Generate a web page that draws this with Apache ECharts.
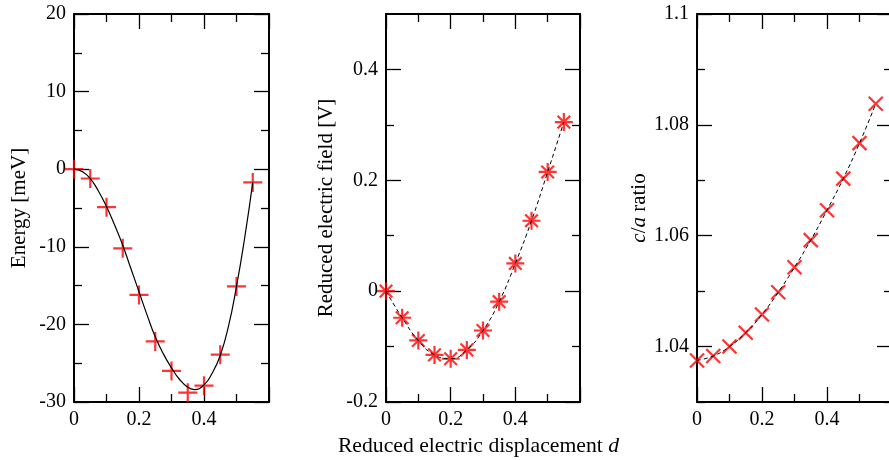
<!DOCTYPE html>
<html><head><meta charset="utf-8">
<script src="https://cdn.jsdelivr.net/npm/echarts@6/dist/echarts.min.js"></script>
<style>html,body{margin:0;padding:0;background:#fff}#c{width:889px;height:460px}</style>
</head><body><div id="c"></div>
<script>
// ---- data ----
const dValues = [0, 0.05, 0.1, 0.15, 0.2, 0.25, 0.3, 0.35, 0.4, 0.45, 0.5, 0.55];
const energy = [0, -1.2, -4.9, -10.2, -16.2, -22.2, -26.0, -28.8, -27.9, -23.9, -15.1, -1.7];
const fitD = [0, 0.025, 0.05, 0.075, 0.1, 0.125, 0.15, 0.175, 0.2, 0.225, 0.25, 0.275, 0.3, 0.325, 0.35, 0.37, 0.4, 0.425, 0.45, 0.475, 0.5, 0.525, 0.55];
const energyFit = [0, -0.3, -1.2, -2.8, -4.8, -7.2, -9.8, -12.8, -15.8, -18.8, -21.6, -23.8, -25.6, -27.1, -28.1, -28.4, -27.8, -26.3, -24.0, -20.3, -15.1, -8.9, -1.7];
const field = [0, -0.048, -0.089, -0.115, -0.122, -0.106, -0.071, -0.019, 0.050, 0.127, 0.215, 0.305];
const ratio = [1.0375, 1.0383, 1.0400, 1.0425, 1.0458, 1.0498, 1.0543, 1.0592, 1.0646, 1.0703, 1.0767, 1.0838];

const xMajor = [0, 0.2, 0.4, 0.6];
const xMinor = [0.1, 0.3, 0.5];
const xLabels = [0, 0.2, 0.4];
const eMajor = [-30, -20, -10, 0, 10, 20];
const eMinor = [-25, -15, -5, 5, 15];
const fMajor = [-0.2, 0, 0.2, 0.4];
const fMinor = [-0.1, 0.1, 0.3];
const rMajor = [1.04, 1.06, 1.08, 1.1];
const rMinor = [1.03, 1.05, 1.07, 1.09];

const FONT = 'Liberation Serif';
const grids = [
  {left: 74, top: 14, width: 195, height: 388, outerBoundsMode: 'none', containLabel: false},
  {left: 386, top: 14, width: 194, height: 388, outerBoundsMode: 'none', containLabel: false},
  {left: 697, top: 14, width: 195, height: 388, outerBoundsMode: 'none', containLabel: false}
];

const xAxes = [], yAxes = [];
function addAxes(list, dim, gi, min, max, major, minor, labels, extra) {
  const pos = dim === 'x' ? ['bottom', 'top'] : ['left', 'right'];
  const idx = list.length;
  pos.forEach((p, k) => {
    const main = Object.assign({
      type: 'value', gridIndex: gi, position: p, min: min, max: max,
      axisLine: {show: true, onZero: false, lineStyle: {color: '#000', width: 2}},
      axisTick: {show: true, inside: true, length: 15, customValues: major, lineStyle: {color: '#000', width: 1.3}},
      axisLabel: k === 0 ? {show: true, customValues: labels, margin: 8, color: '#000', fontFamily: FONT, fontSize: 20} : {show: false},
      splitLine: {show: false}
    }, k === 0 ? (extra || {}) : {});
    list.push(main);
    list.push({
      type: 'value', gridIndex: gi, position: p, min: min, max: max,
      axisLine: {show: false, onZero: false},
      axisTick: {show: true, inside: true, length: 8, customValues: minor, lineStyle: {color: '#000', width: 1.3}},
      axisLabel: {show: false}, splitLine: {show: false}
    });
  });
  return idx;
}
const richBase = {
  n: {fontFamily: FONT, fontSize: 21.7, color: '#000'},
  i: {fontFamily: FONT, fontSize: 21.7, fontStyle: 'italic', color: '#000'}
};
const richY = {
  n: {fontFamily: FONT, fontSize: 21, color: '#000'},
  i: {fontFamily: FONT, fontSize: 21, fontStyle: 'italic', color: '#000'}
};
const x0 = addAxes(xAxes, 'x', 0, 0, 0.6, xMajor, xMinor, xLabels);
const y0 = addAxes(yAxes, 'y', 0, -30, 20, eMajor, eMinor, eMajor, {
  name: 'Energy [meV]', nameLocation: 'middle', nameGap: 44, nameRotate: 90,
  nameTextStyle: {fontFamily: FONT, fontSize: 21, color: '#000'}
});
const x1 = addAxes(xAxes, 'x', 1, 0, 0.6, xMajor, xMinor, xLabels, {
  name: '{n|Reduced electric displacement }{i|d}', nameLocation: 'middle', nameGap: 33,
  nameTextStyle: {rich: richBase, padding: [0, 9, 0, 0]}
});
const y1 = addAxes(yAxes, 'y', 1, -0.2, 0.5, fMajor, fMinor, fMajor, {
  name: 'Reduced electric field [V]', nameLocation: 'middle', nameGap: 49, nameRotate: 90,
  nameTextStyle: {fontFamily: FONT, fontSize: 21, color: '#000'}
});
const x2 = addAxes(xAxes, 'x', 2, 0, 0.6, xMajor, xMinor, xLabels);
const y2 = addAxes(yAxes, 'y', 2, 1.03, 1.1, rMajor, rMinor, rMajor, {
  name: '{i|c}{n|/}{i|a}{n| ratio}', nameLocation: 'middle', nameGap: 46, nameRotate: 90,
  nameTextStyle: {rich: richY}
});

const pair = (xs, ys) => xs.map((x, i) => [x, ys[i]]);
const PLUS = 'path://M0,10L20,10M10,0L10,20';
const STAR = 'path://M0,10L20,10M10,0L10,20M3,3L17,17M17,3L3,17';
const CROSS = 'path://M0,0L20,20M20,0L0,20';
const markStyle = {color: '#ff0000', borderColor: '#ff0000', borderWidth: 2.2};

const option = {
  animation: false,
  backgroundColor: '#fff',
  grid: grids,
  xAxis: xAxes,
  yAxis: yAxes,
  series: [
    {type: 'scatter', xAxisIndex: x0, yAxisIndex: y0, data: pair(dValues, energy), symbol: PLUS, symbolSize: 19, itemStyle: markStyle, clip: false, z: 2},
    {type: 'line', xAxisIndex: x0, yAxisIndex: y0, data: pair(fitD, energyFit), smooth: true, showSymbol: false, symbol: 'none', lineStyle: {color: '#000', width: 1.2}, z: 3},
    {type: 'scatter', xAxisIndex: x1, yAxisIndex: y1, data: pair(dValues, field), symbol: STAR, symbolSize: 18, itemStyle: markStyle, clip: false, z: 2},
    {type: 'line', xAxisIndex: x1, yAxisIndex: y1, data: pair(dValues, field), smooth: true, showSymbol: false, symbol: 'none', lineStyle: {color: '#000', width: 1, type: [4, 3]}, z: 3},
    {type: 'scatter', xAxisIndex: x2, yAxisIndex: y2, data: pair(dValues, ratio), symbol: CROSS, symbolSize: 14, itemStyle: markStyle, clip: false, z: 2},
    {type: 'line', xAxisIndex: x2, yAxisIndex: y2, data: pair(dValues, ratio), smooth: true, showSymbol: false, symbol: 'none', lineStyle: {color: '#000', width: 1, type: [4, 3]}, z: 3}
  ]
};
const chart = echarts.init(document.getElementById('c'), null, {renderer: 'canvas'});
chart.setOption(option);
</script>
</body></html>
